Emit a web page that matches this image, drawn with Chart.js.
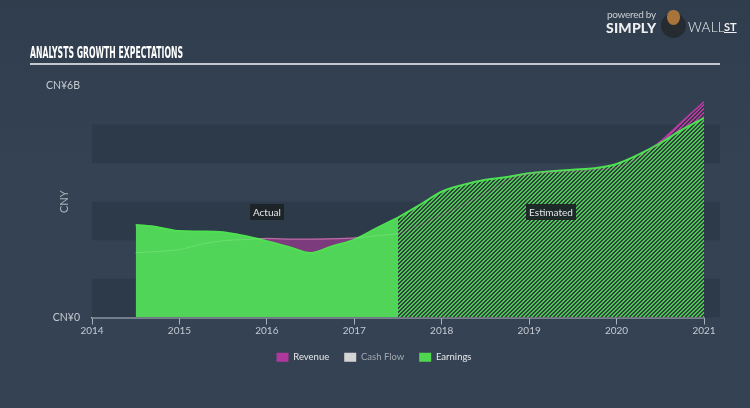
<!DOCTYPE html>
<html><head><meta charset="utf-8">
<script src="https://cdn.jsdelivr.net/npm/chart.js@4.4.1/dist/chart.umd.min.js"></script>
<style>
html,body{margin:0;padding:0;}
body{width:750px;height:408px;overflow:hidden;background:#334152;font-family:Lato,"Open Sans",sans-serif;}
#wrap{position:relative;width:750px;height:408px;background:linear-gradient(180deg,#303d4d 0%,#344254 40%,#344254 100%);}
#c{position:absolute;left:0;top:0;}
#title{position:absolute;left:30px;top:44px;font-family:"DejaVu Sans Condensed","DejaVu Sans",sans-serif;font-weight:bold;font-size:15px;color:#ffffff;transform-origin:left top;white-space:nowrap;}
#rule{position:absolute;left:30px;top:63px;width:690px;height:2px;background:#c3c9cf;}
.lg{position:absolute;white-space:nowrap;color:#eef0f2;}
#pb{left:607px;top:8px;font-size:10px;color:#c9cdd2;letter-spacing:-0.3px;}
#simply{left:606px;top:19px;font-size:14px;font-weight:900;letter-spacing:0.2px;}
#wall{left:688px;top:19px;font-size:13.5px;font-weight:300;letter-spacing:0.3px;}
#st{left:724px;top:20px;font-size:11px;font-weight:bold;text-decoration:underline;}
#bull{position:absolute;left:661px;top:13px;width:25px;height:25px;border-radius:50%;background:#262b31;}
#head{position:absolute;left:667px;top:10px;width:13px;height:15px;border-radius:45% 45% 50% 50%;background:#a8743a;}
</style></head>
<body><div id="wrap">
<canvas id="c" width="750" height="408"></canvas>
<div id="title">ANALYSTS GROWTH EXPECTATIONS</div>
<div id="rule"></div>
<div class="lg" id="pb">powered by</div>
<div class="lg" id="simply">SIMPLY</div>
<div id="bull"></div><div id="head"></div>
<div class="lg" id="wall">WALL</div>
<div class="lg" id="st">ST</div>
</div>
<script>
// ---- data ----
const actualYears = [2014.5,2014.75,2015,2015.25,2015.5,2015.75,2016,2016.25,2016.5,2016.75,2017,2017.25,2017.5];
const earningsActual = [2.40,2.34,2.24,2.23,2.21,2.11,1.98,1.83,1.67,1.85,2.02,2.31,2.59];
const revenueActual = [1.68,1.71,1.76,1.90,1.99,2.02,2.05,2.03,2.03,2.04,2.06,2.12,2.18];
const estimatedYears = [2017.5,2017.75,2018,2018.25,2018.5,2018.75,2019,2019.25,2019.5,2019.75,2020,2020.25,2020.5,2020.75,2021];
const earningsEstimated = [2.59,2.92,3.26,3.44,3.57,3.64,3.74,3.79,3.83,3.87,3.98,4.22,4.52,4.87,5.17];
const revenueEstimated = [2.18,2.40,2.66,2.92,3.22,3.55,3.72,3.76,3.78,3.83,3.89,4.13,4.56,5.08,5.59];
const xTickYears = [2014,2015,2016,2017,2018,2019,2020,2021];
const legendNames = ["Revenue","Cash Flow","Earnings"];
const yTickLabels = {0:"CN¥0",6:"CN¥6B"};
const yAxisTitle = "CNY";
const periodLabels = ["Actual","Estimated"];

// fit title width
(function(){const t=document.getElementById('title');const w=t.getBoundingClientRect().width;t.style.transform='scaleX('+(153/w)+')';})();

function pts(xs, ys){return xs.map((x,i)=>({x:x,y:ys[i]}));}

function hatch(bg, fg){
  const n=4, c=document.createElement('canvas'); c.width=n; c.height=n;
  const g=c.getContext('2d'); g.fillStyle=bg; g.fillRect(0,0,n,n);
  g.fillStyle=fg;
  for(let i=0;i<n;i++){ g.fillRect(i,(n-1-i+n)%n,1,1); g.fillRect(i,(n-i+n)%n,1,1); }
  return g.createPattern(c,'repeat');
}
const ctx0=document.getElementById('c').getContext('2d');
const greenHatch=hatch('#323f3e','#48c94f');
const magHatch=hatch('#38384a','#b63aa2');

const GREEN='#50d558', GREEN_LINE='#4ee052', MAG_FILL='#7c3b7d', MAG_LINE='#b8399f';
const splitYear = estimatedYears[0];

const bands={id:'bands',beforeDatasetsDraw(chart){
  const {ctx,chartArea,scales:{y}}=chart;
  ctx.save(); ctx.fillStyle='#2d3a4a';
  [[0,1],[2,3],[4,5]].forEach(([a,b])=>{
    const y1=y.getPixelForValue(b), y2=y.getPixelForValue(a);
    ctx.fillRect(chartArea.left,y1,chartArea.right+16-chartArea.left,y2-y1);
  });
  ctx.restore();
}};
const boxes={id:'boxes',afterDatasetsDraw(chart){
  const {ctx,scales:{x,y}}=chart;
  const pos=[[2016,2.73],[2019.25,2.73]];
  ctx.save(); ctx.font='10px Lato'; ctx.textAlign='center'; ctx.textBaseline='middle';
  periodLabels.forEach((t,i)=>{
    const px=x.getPixelForValue(pos[i][0]), py=y.getPixelForValue(pos[i][1]);
    const w=ctx.measureText(t).width+6;
    ctx.fillStyle='rgba(27,34,38,0.93)'; ctx.fillRect(Math.round(px-w/2),Math.round(py-8),Math.round(w),16);
    ctx.fillStyle='#e6e8ea'; ctx.fillText(t,px,py+0.5);
  });
  ctx.restore();
}};

const common={pointRadius:0,pointHoverRadius:0,cubicInterpolationMode:'monotone',fill:'origin'};
new Chart(ctx0,{
  type:'line',
  data:{datasets:[
    Object.assign({label:'revLine',data:pts(actualYears.concat(estimatedYears.slice(1)),revenueActual.concat(revenueEstimated.slice(1))),borderColor:'rgba(190,70,170,0.3)',borderWidth:1,order:0,
      segment:{borderColor:c=>c.p0.parsed.x<splitYear?'rgba(150,240,150,0.35)':'rgba(200,70,180,0.35)'}},common,{fill:false}),
    Object.assign({label:legendNames[2],data:pts(actualYears,earningsActual),backgroundColor:GREEN,borderColor:GREEN_LINE,borderWidth:2,order:1},common),
    Object.assign({label:legendNames[2]+' est',data:pts(estimatedYears,earningsEstimated),backgroundColor:greenHatch,borderColor:GREEN_LINE,borderWidth:2,order:1},common),
    Object.assign({label:legendNames[0],data:pts(actualYears,revenueActual),backgroundColor:MAG_FILL,borderColor:MAG_LINE,borderWidth:1.5,order:2},common),
    Object.assign({label:legendNames[0]+' est',data:pts(estimatedYears,revenueEstimated),backgroundColor:magHatch,borderColor:MAG_LINE,borderWidth:1.5,order:2},common)
  ]},
  options:{
    responsive:false,devicePixelRatio:1,animation:false,
    layout:{padding:{left:44,right:46,top:86,bottom:36}},
    plugins:{
      tooltip:{enabled:false},
      legend:{position:'bottom',labels:{boxWidth:12,boxHeight:9,padding:15,color:'#e6e8ea',font:{size:9.5,family:'Lato'},
        generateLabels(){return [
          {text:legendNames[0],fillStyle:'#b0389c',strokeStyle:'#b0389c',lineWidth:0,fontColor:'#e6e8ea',datasetIndex:3},
          {text:legendNames[1],fillStyle:'#d4d4d4',strokeStyle:'#d4d4d4',lineWidth:0,fontColor:'#a3a8ae'},
          {text:legendNames[2],fillStyle:'#4fd84f',strokeStyle:'#4fd84f',lineWidth:0,fontColor:'#e6e8ea',datasetIndex:1}
        ];}}}
    },
    scales:{
      x:{type:'linear',min:2014,max:2021,
        afterBuildTicks(s){s.ticks=xTickYears.map(v=>({value:v}));},
        afterFit(s){s.height=20;},
        ticks:{color:'#c5cad0',font:{size:10,family:'Lato'},padding:0,maxRotation:0,callback:v=>String(v)},
        grid:{display:true,drawOnChartArea:false,drawTicks:true,tickLength:7,color:'#aab2bb',lineWidth:1},
        border:{display:true,color:'#b4bcc4',width:1.5}},
      y:{min:0,max:6,
        afterBuildTicks(s){s.ticks=[{value:0},{value:6}];},
        afterFit(s){s.width=48;},
        ticks:{color:'#c5cad0',font:{size:10.5,family:'Lato'},padding:12,callback:v=>yTickLabels[v]||''},
        grid:{display:false,drawTicks:false},
        border:{display:false},
        title:{display:true,text:yAxisTitle,color:'#aeb4ba',font:{size:11,family:'Lato'},padding:{top:14,bottom:0}}}
    }
  },
  plugins:[bands,boxes]
});
</script>
</body></html>
